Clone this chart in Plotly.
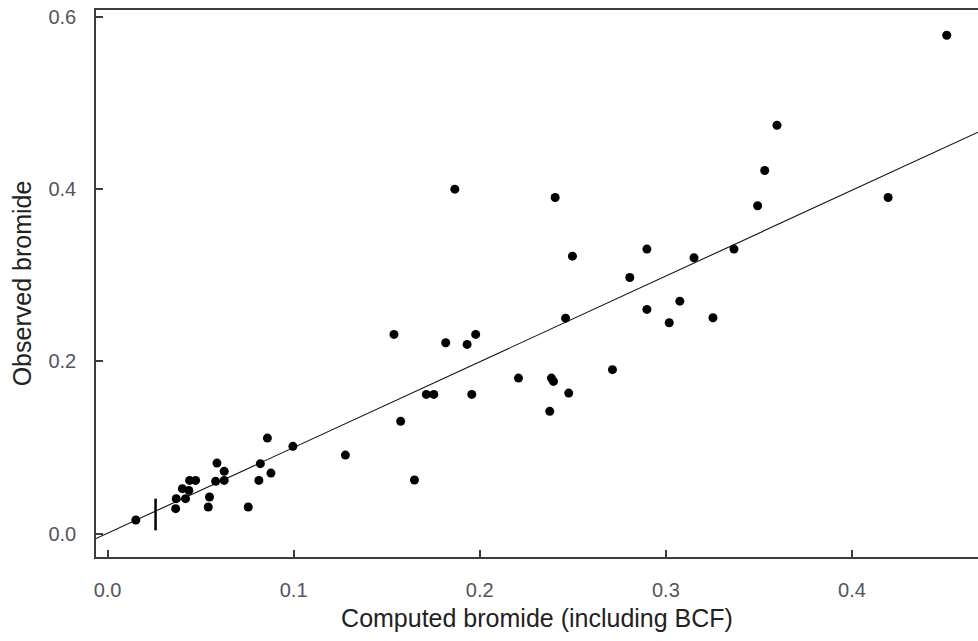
import plotly.graph_objects as go

# Computed bromide (including BCF) vs observed bromide
computed = [0.0152, 0.0366, 0.0369, 0.0419, 0.0402, 0.0437, 0.0441, 0.0473, 0.0548, 0.0541,
            0.0588, 0.0581, 0.0627, 0.0627, 0.0756, 0.0813, 0.0821, 0.0859, 0.0878, 0.0996,
            0.1278, 0.1649, 0.1575, 0.1539, 0.1713, 0.1753, 0.1817, 0.1932, 0.1978, 0.1957,
            0.1866, 0.2405, 0.2498, 0.2898, 0.2806, 0.2898, 0.2461, 0.2208, 0.2385, 0.2396,
            0.2478, 0.2376, 0.2713, 0.3151, 0.3366, 0.3075, 0.3018, 0.3253, 0.3493, 0.3531,
            0.3597, 0.4509, 0.4194]
observed = [0.0159, 0.0290, 0.0406, 0.0406, 0.0522, 0.0502, 0.0618, 0.0618, 0.0425, 0.0309,
            0.0819, 0.0607, 0.0723, 0.0618, 0.0309, 0.0618, 0.0812, 0.1109, 0.0703, 0.1013,
            0.0912, 0.0622, 0.1303, 0.2312, 0.1616, 0.1616, 0.2216, 0.2196, 0.2312, 0.1616,
            0.3998, 0.3901, 0.3220, 0.3302, 0.2973, 0.2602, 0.2501, 0.1805, 0.1805, 0.1767,
            0.1631, 0.1419, 0.1903, 0.3202, 0.3302, 0.2698, 0.2448, 0.2506, 0.3805, 0.4215,
            0.4740, 0.5784, 0.3901]

fit_slope = 0.995
fit_intercept = 0.0005
fit_x = [-0.0062, 0.4677]
fit_y = [fit_intercept + fit_slope * v for v in fit_x]

marker_x = [0.0258, 0.0258]
marker_y = [0.0038, 0.0406]

x_ticks = [0.0, 0.1, 0.2, 0.3, 0.4]
y_ticks = [0.0, 0.2, 0.4, 0.6]

AX = "#3d3d3d"
FONT = "Liberation Sans, Arial, sans-serif"

fig = go.Figure()
fig.add_trace(go.Scatter(x=fit_x, y=fit_y, mode="lines",
                         line=dict(color="#111111", width=1.1), hoverinfo="skip"))
fig.add_trace(go.Scatter(x=marker_x, y=marker_y, mode="lines",
                         line=dict(color="black", width=2.5), hoverinfo="skip"))
fig.add_trace(go.Scatter(x=computed, y=observed, mode="markers",
                         marker=dict(color="black", size=9, line=dict(width=0))))

fig.update_layout(
    width=978, height=641,
    margin=dict(l=96, r=0, t=10, b=84),
    paper_bgcolor="white", plot_bgcolor="white",
    showlegend=False,
    font=dict(family=FONT, color="#222222"),
)
fig.update_xaxes(
    range=[-0.0062, 0.4677], tickvals=x_ticks, ticktext=[f"{v:.1f}" for v in x_ticks],
    showgrid=False, zeroline=False, showline=True, linecolor=AX, linewidth=1.5, mirror=True,
    ticks="inside", ticklen=7, tickwidth=1.5, tickcolor=AX,
    tickfont=dict(size=20, color="#505560"), ticklabelstandoff=14,
    title=dict(text="Computed bromide (including BCF)", font=dict(size=25, color="#222222"), standoff=10),
)
fig.update_yaxes(
    range=[-0.0271, 0.6077], tickvals=y_ticks, ticktext=[f"{v:.1f}" for v in y_ticks],
    showgrid=False, zeroline=False, showline=True, linecolor=AX, linewidth=1.5,
    ticks="inside", ticklen=7, tickwidth=1.5, tickcolor=AX,
    tickfont=dict(size=20, color="#505560"), ticklabelstandoff=14,
    title=dict(text="Observed bromide", font=dict(size=25, color="#222222"), standoff=10),
)

fig.write_html("out.html")
